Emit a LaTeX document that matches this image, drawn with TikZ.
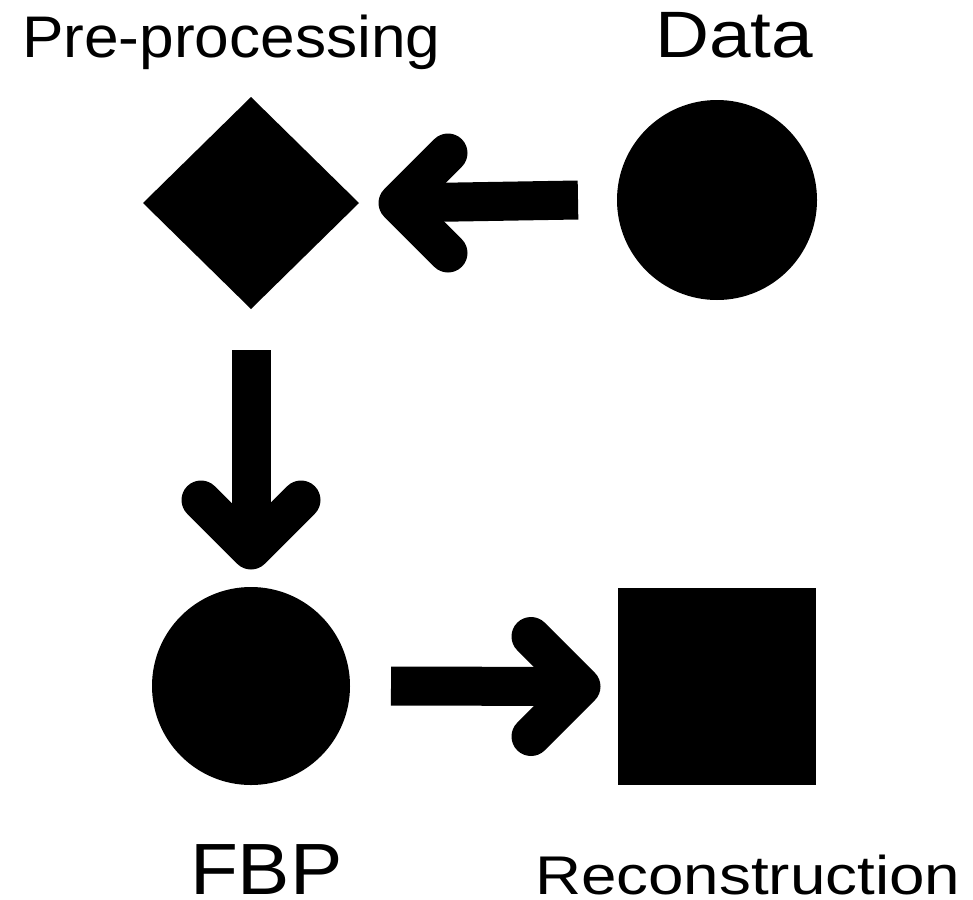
\documentclass[tikz,border=0pt]{standalone}
\usepackage{fontspec}
\setmainfont{Liberation Sans}
\usetikzlibrary{shapes.geometric,calc}
\begin{document}
\begin{tikzpicture}[x=1pt,y=-1pt,
  blob/.style={fill=black,draw=none,inner sep=0pt,outer sep=0pt},
  shaft/.style={line width=39pt,line cap=butt},
  barb/.style={line width=39pt,line cap=round,line join=round},
  lbl/.style={anchor=base west,inner sep=0pt,outer sep=0pt}]
\useasboundingbox (0,0) rectangle (973,899);

% stages
\node[blob,diamond,minimum width=216pt,minimum height=212pt] (pre) at (251,203) {};
\node[blob,circle,minimum size=200pt] (data) at (717,200) {};
\node[blob,circle,minimum size=198pt] (fbp) at (251,686) {};
\node[blob,rectangle,minimum width=198pt,minimum height=197pt] (rec) at (717,686.5) {};

% labels
\node[lbl] (tpre) at (22,57) {\fontsize{58.7pt}{60pt}\selectfont\scalebox{1.06}[1]{Pre-processing}};
\node[lbl] (tdata) at (655,57) {\fontsize{65.6pt}{66pt}\selectfont\scalebox{1.14}[1]{Data}};
\node[lbl] (tfbp) at (190,894) {\fontsize{72.6pt}{74pt}\selectfont\scalebox{1.08}[1]{FBP}};
\node[lbl] (trec) at (535,894) {\fontsize{54.5pt}{56pt}\selectfont\scalebox{1.17}[1]{Reconstruction}};

% Data -> Pre-processing
\coordinate (v1) at ($(pre.east)+(39,0)$);
\draw[shaft] ($(data.west)+(-39,0)$) -- (v1);
\draw[barb] ($(v1)+(50,-50)$) -- (v1) -- ($(v1)+(50,50)$);

% Pre-processing -> FBP
\coordinate (v2) at ($(fbp.north)+(0,-37)$);
\draw[shaft] ($(pre.south)+(0,41)$) -- (v2);
\draw[barb] ($(v2)+(-50,-50)$) -- (v2) -- ($(v2)+(50,-50)$);

% FBP -> Reconstruction
\coordinate (v3) at ($(rec.west)+(-37,0)$);
\draw[shaft] ($(fbp.east)+(41,0)$) -- (v3);
\draw[barb] ($(v3)+(-50,-50)$) -- (v3) -- ($(v3)+(-50,50)$);
\end{tikzpicture}
\end{document}
